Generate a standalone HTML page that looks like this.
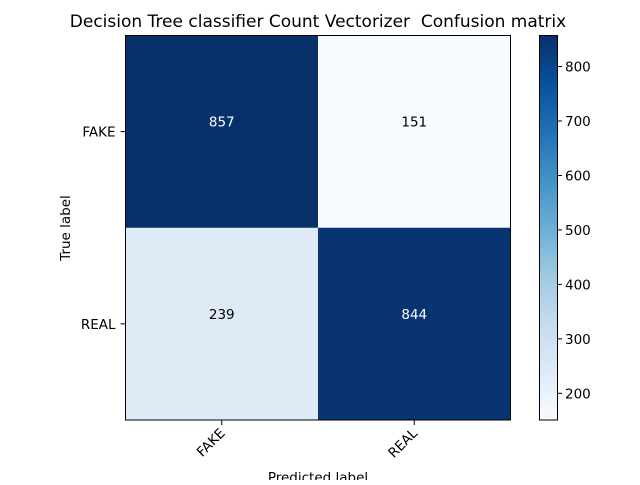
<!DOCTYPE html>
<html><head><meta charset="utf-8"><style>
body{margin:0;background:#fff;}
svg text{font-family:"DejaVu Sans","Liberation Sans",sans-serif;}
</style></head><body>
<svg id="chart" width="640" height="480" xmlns="http://www.w3.org/2000/svg">
<defs>
<linearGradient id="blues" x1="0" y1="1" x2="0" y2="0">
<stop offset="0" stop-color="#f7fbff"/><stop offset="0.125" stop-color="#deebf7"/><stop offset="0.25" stop-color="#c6dbef"/><stop offset="0.375" stop-color="#9ecae1"/><stop offset="0.5" stop-color="#6baed6"/><stop offset="0.625" stop-color="#4292c6"/><stop offset="0.75" stop-color="#2171b5"/><stop offset="0.875" stop-color="#08519c"/><stop offset="1" stop-color="#08306b"/>
</linearGradient>
</defs>
<text x="318" y="27" font-size="17" text-anchor="middle">Decision Tree classifier Count Vectorizer&#160; Confusion matrix</text>
<g id="cells"></g>
<rect x="125.5" y="35.5" width="385" height="384.5" fill="none" stroke="#000" stroke-width="1"/>
<g id="axes"></g>
<text x="318" y="482" font-size="13.5" text-anchor="middle">Predicted label</text>
<text transform="translate(70,228) rotate(-90)" font-size="13.5" text-anchor="middle">True label</text>
<rect x="539.5" y="35.5" width="18" height="384.5" fill="url(#blues)" stroke="#000" stroke-width="1"/>
<g id="cbticks"></g>
</svg>
<script>
const classes = ["FAKE", "REAL"];
const rowFAKE = [857, 151];
const rowREAL = [239, 844];
const cbTicks = [200, 300, 400, 500, 600, 700, 800];

const matrix = [rowFAKE, rowREAL];
const all = matrix.flat();
const vmin = Math.min(...all), vmax = Math.max(...all);
const L = 125.5, T = 35.5, W = 385, H = 384.5;
const n = classes.length;
const xPos = i => L + W * (i + 0.5) / n;
const yPos = i => T + H * (i + 0.5) / n;
const cbY = v => T + H * (1 - (v - vmin) / (vmax - vmin));
const stops = ["#f7fbff","#deebf7","#c6dbef","#9ecae1","#6baed6","#4292c6","#2171b5","#08519c","#08306b"];
function hex(h){return [1,3,5].map(i=>parseInt(h.substr(i,2),16));}
function cmap(v){
  let t=(v-vmin)/(vmax-vmin)*(stops.length-1);
  let i=Math.min(Math.floor(t),stops.length-2), f=t-i;
  let a=hex(stops[i]), b=hex(stops[i+1]);
  return "rgb("+a.map((x,k)=>Math.round(x+(b[k]-x)*f)).join(",")+")";
}
const NS="http://www.w3.org/2000/svg";
function mk(tag, attrs, parent){const e=document.createElementNS(NS,tag);for(const k in attrs)e.setAttribute(k,attrs[k]);parent.appendChild(e);return e;}
const cells=document.getElementById("cells"), axes=document.getElementById("axes"), cb=document.getElementById("cbticks");
const thresh = vmax/2;
matrix.forEach((row,r)=>row.forEach((v,c)=>{
  const rect=mk("rect",{x:L+W*c/n,y:T+H*r/n,width:W/n+0.5,height:H/n+0.5,fill:cmap(v)},cells);
  
  
  const t=mk("text",{x:xPos(c),y:yPos(r)-5,"font-size":"13.5","text-anchor":"middle",fill:v>thresh?"#fff":"#000"},cells);
  t.textContent=v;
  
  
}));
classes.forEach((c,i)=>{
  mk("line",{x1:xPos(i),x2:xPos(i),y1:T+H,y2:T+H+5,stroke:"#000"},axes);
  const xt=mk("text",{transform:`translate(${xPos(i)+4},${T+H+14}) rotate(-45)`,"font-size":"13.5","text-anchor":"end"},axes);
  xt.textContent=c;
  
  
  mk("line",{x1:L-5,x2:L,y1:yPos(i),y2:yPos(i),stroke:"#000"},axes);
  const yt=mk("text",{x:L-10,y:yPos(i)+5,"font-size":"13.5","text-anchor":"end"},axes);
  yt.textContent=c;
  
  
});
cbTicks.forEach(v=>{
  const y=cbY(v);
  mk("line",{x1:557.5,x2:562,y1:y,y2:y,stroke:"#000"},cb);
  const t=mk("text",{x:565,y:y+5,"font-size":"13.5"},cb);
  t.textContent=v;
  
  
});
</script>
</body></html>
